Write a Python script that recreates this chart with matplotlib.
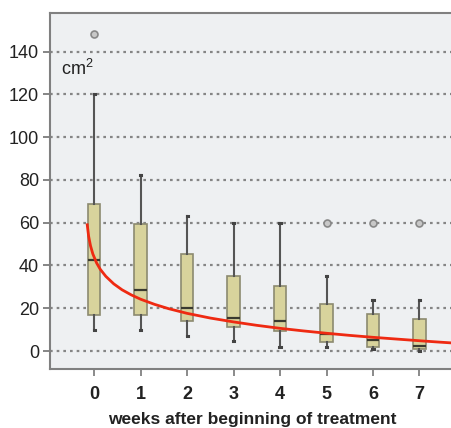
#!/usr/bin/python3
import matplotlib
matplotlib.use('Agg')
import matplotlib.pyplot as plt

# Box plot statistics per week.
weeks = [0, 1, 2, 3, 4, 5, 6, 7]
whislo = [10, 10, 7, 4.5, 2, 2, 1, 0]
q1 = [17, 17, 14, 11, 9.5, 4, 2, 1]
med = [42.5, 28.5, 20, 15.5, 14, 8, 5, 2.5]
q3 = [68.5, 59.5, 45.5, 35, 30.5, 22, 17.5, 15]
whishi = [120, 82.5, 63, 60, 60, 35, 24, 24]
fliers = [[148], [], [], [], [], [60], [60], [60]]

# Fitted decay curve.
fit_x = [-0.15, -0.12, -0.08, -0.03, 0.05, 0.13, 0.25, 0.42, 0.6, 0.8,
         1.0, 1.3, 1.6, 2.0, 2.5, 3.0, 3.5, 4.0, 4.5, 5.0, 5.5, 6.0,
         6.5, 7.0, 7.4, 7.75]
fit_y = [59.0, 53.6, 49.2, 45.4, 41.2, 38.2, 34.9, 31.4, 28.6, 26.2,
         24.2, 21.8, 19.8, 17.6, 15.4, 13.6, 12.0, 10.6, 9.4, 8.3, 7.3,
         6.4, 5.6, 4.8, 4.2, 3.7]

yticks = [0, 20, 40, 60, 80, 100, 120, 140]


def main():
    plt.rcParams['font.family'] = ['Liberation Sans', 'DejaVu Sans']
    plt.rcParams['mathtext.fontset'] = 'custom'
    plt.rcParams['mathtext.rm'] = 'Liberation Sans'
    plt.rcParams['mathtext.default'] = 'regular'

    fig = plt.figure(figsize=(4.52, 4.28), dpi=100)
    ax = fig.add_axes([0.1106, 0.1379, 0.8944, 0.8317])
    ax.set_facecolor('#eef0f2')

    stats = []
    for i in range(len(weeks)):
        stats.append({'med': med[i], 'q1': q1[i], 'q3': q3[i],
                      'whislo': whislo[i], 'whishi': whishi[i],
                      'fliers': fliers[i]})
    ax.bxp(stats, positions=weeks, widths=0.27, patch_artist=True,
           boxprops=dict(facecolor='#d8d39c', edgecolor='#8c8a70', lw=1.2),
           medianprops=dict(color='#3a3a30', lw=1.6),
           whiskerprops=dict(color='#555555', lw=1.5),
           capprops=dict(color='#444444', lw=2.2),
           capwidths=0.025,
           flierprops=dict(marker='o', markersize=5, markerfacecolor='#c8c8c8',
                           markeredgecolor='#888888', markeredgewidth=1.2),
           zorder=3)

    # Fitted curve.
    ax.plot(fit_x, fit_y, color='#ee2a12', lw=2, zorder=4)

    ax.set_xlim(-0.952, 7.75)
    ax.set_ylim(-8.4, 158)
    ax.set_yticks(yticks)
    ax.set_xticks(weeks)
    ax.set_xticklabels([str(w) for w in weeks], fontweight='bold')
    ax.yaxis.grid(True, linestyle=(0, (1.2, 1.8)), color='#858585', lw=1.6)
    ax.set_axisbelow(True)
    ax.tick_params(axis='y', length=5, width=1.4, color='#858585',
                   labelsize=13, labelcolor='#222222', pad=3)
    ax.tick_params(axis='x', length=5, width=1.2, color='#777777',
                   labelsize=13, labelcolor='#222222', pad=7)
    for side in ['left', 'bottom', 'top']:
        ax.spines[side].set_color('#808080')
        ax.spines[side].set_linewidth(1.5)
    ax.spines['right'].set_visible(False)

    ax.text(-0.72, 132, 'cm$^2$', fontsize=13, color='#222222', va='center')
    ax.set_xlabel('weeks after beginning of treatment', fontweight='bold',
                  fontsize=12.5, color='#222222', labelpad=6.5)

    fig.savefig('out.png', dpi=100)


if(__name__ == '__main__'):
    main()
